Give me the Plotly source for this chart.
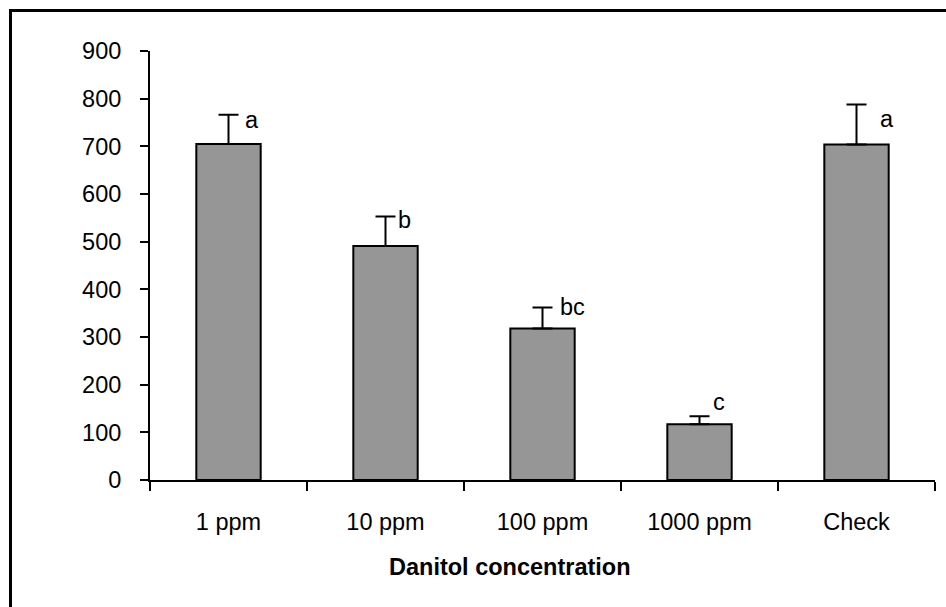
import plotly.graph_objects as go

categories = ["1 ppm", "10 ppm", "100 ppm", "1000 ppm", "Check"]
means = [705, 491, 318, 117, 704]
errors = [61, 62, 44, 17, 84]
letters = ["a", "b", "bc", "c", "a"]
y_ticks = [0, 100, 200, 300, 400, 500, 600, 700, 800, 900]
x_title = "Danitol concentration"

# layout-only placement of the significance letters
letter_y = [755, 545, 363, 164, 757]
letter_xshift = [14, 10, 15, 11, 21]

FONT = "Liberation Sans, Arial, sans-serif"
FS = 23.5
W, H = 946, 607
L, R, T, B = 150, 11, 51, 127
pw, ph = W - L - R, H - T - B

fig = go.Figure()
fig.add_trace(go.Bar(
    x=categories, y=means,
    marker=dict(color="#969696", line=dict(color="black", width=2)),
    error_y=dict(type="data", array=errors, symmetric=False,
                 arrayminus=[0] * len(errors),
                 color="black", thickness=2, width=10),
    width=0.41,
    showlegend=False,
))

for c, t, yv, xs in zip(categories, letters, letter_y, letter_xshift):
    fig.add_annotation(x=c, y=yv, text=t, showarrow=False,
                       xanchor="left", yanchor="middle", xshift=xs,
                       font=dict(family=FONT, size=FS, color="black"))

fig.add_annotation(xref="paper", yref="paper",
                   x=(510 - L) / pw, y=-(567 - (T + ph)) / ph,
                   text="<b>" + x_title + "</b>", showarrow=False,
                   xanchor="center", yanchor="middle",
                   font=dict(family=FONT, size=FS, color="black"))

# outer frame (only left and top edges visible in the picture)
fig.add_shape(type="rect", xref="paper", yref="paper",
              x0=(10.5 - L) / pw, y0=-0.6, x1=1.2, y1=1 + (T - 10.5) / ph,
              line=dict(color="black", width=3), layer="below")

fig.update_layout(
    width=W, height=H,
    margin=dict(l=L, r=R, t=T, b=B),
    paper_bgcolor="white", plot_bgcolor="white",
    font=dict(family=FONT, size=FS, color="black"),
    bargap=0.59,
    xaxis=dict(
        showline=True, linecolor="black", linewidth=2,
        ticks="outside", tickson="boundaries", ticklen=9, tickwidth=2,
        tickcolor="black", showgrid=False, zeroline=False,
        tickfont=dict(family=FONT, size=FS, color="black"),
        ticklabelstandoff=20,
    ),
    yaxis=dict(
        range=[0, 900], tickvals=y_ticks,
        showline=True, linecolor="black", linewidth=2,
        ticks="outside", ticklen=8, tickwidth=2, tickcolor="black",
        showgrid=False, zeroline=False,
        tickfont=dict(family=FONT, size=FS, color="black"),
        ticklabelstandoff=14,
    ),
)

fig.write_html("out.html")
